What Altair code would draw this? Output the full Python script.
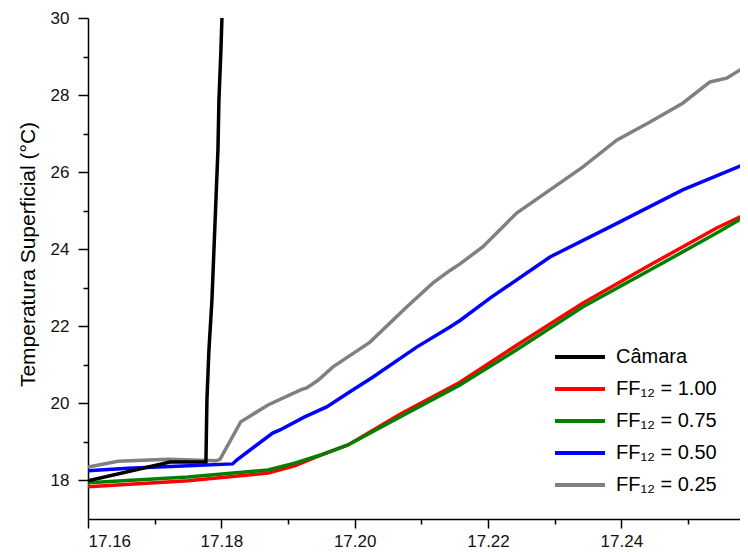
import altair as alt
import pandas as pd

# ---- series names / colours (legend order) ----
series_names = ["Câmara", "FF₁₂ = 1.00", "FF₁₂ = 0.75", "FF₁₂ = 0.50", "FF₁₂ = 0.25"]
series_colors = ["#000000", "#ff0000", "#008000", "#0000ff", "#808080"]

# ---- data (hora, temperatura °C) ----
ff025_t = [17.1600, 17.1645, 17.1720, 17.1792, 17.1798, 17.1829, 17.1870, 17.1919, 17.1928,
           17.1945, 17.1967, 17.2023, 17.2078, 17.2117, 17.2143, 17.2158, 17.2192, 17.2243,
           17.2293, 17.2342, 17.2393, 17.2443, 17.2492, 17.2533, 17.2558, 17.2590]
ff025_y = [18.35, 18.50, 18.55, 18.51, 18.55, 19.52, 19.96, 20.35, 20.40,
           20.60, 20.94, 21.59, 22.50, 23.12, 23.45, 23.62, 24.06, 24.94,
           25.54, 26.13, 26.83, 27.30, 27.79, 28.34, 28.44, 28.78]

ff050_t = [17.1600, 17.1660, 17.1750, 17.1817, 17.1823, 17.1877, 17.1888, 17.1925, 17.1958,
           17.1990, 17.2027, 17.2093, 17.2143, 17.2158, 17.2203, 17.2293, 17.2383, 17.2492, 17.2590]
ff050_y = [18.25, 18.32, 18.38, 18.43, 18.53, 19.23, 19.31, 19.65, 19.91,
           20.27, 20.68, 21.46, 21.98, 22.15, 22.73, 23.80, 24.58, 25.54, 26.24]

ff100_t = [17.1600, 17.1750, 17.1870, 17.1910, 17.1949, 17.1990, 17.2068, 17.2158, 17.2243,
           17.2342, 17.2443, 17.2543, 17.2590]
ff100_y = [17.84, 17.99, 18.19, 18.38, 18.66, 18.92, 19.72, 20.55, 21.51,
           22.60, 23.59, 24.55, 24.94]

ff075_t = [17.1600, 17.1750, 17.1870, 17.1910, 17.1949, 17.1990, 17.2068, 17.2158, 17.2243,
           17.2342, 17.2443, 17.2543, 17.2590]
ff075_y = [17.94, 18.09, 18.27, 18.45, 18.66, 18.92, 19.65, 20.48, 21.39,
           22.50, 23.46, 24.42, 24.89]

camara_t = [17.16000, 17.17230, 17.17769, 17.17784, 17.17814, 17.17859, 17.17889, 17.17919,
            17.17949, 17.17964, 17.17994, 17.18009, 17.18024]
camara_y = [17.99, 18.48, 18.48, 20.09, 21.39, 22.68, 23.98, 25.28,
            26.57, 27.87, 29.17, 30.00, 31.00]

# ---- axis ticks ----
x_major = [17.16, 17.18, 17.20, 17.22, 17.24]
x_minor = [17.17, 17.19, 17.21, 17.23, 17.25]
y_major = [18, 20, 22, 24, 26, 28, 30]
y_minor = [19, 21, 23, 25, 27, 29]
x_domain = [17.16, 17.2578]
y_domain = [17, 30]

# drawing order: grey, blue, red, green, black (black on top)
frames = []
for name, ts, ys in [
    (series_names[4], ff025_t, ff025_y),
    (series_names[3], ff050_t, ff050_y),
    (series_names[1], ff100_t, ff100_y),
    (series_names[2], ff075_t, ff075_y),
    (series_names[0], camara_t, camara_y),
]:
    frames.append(pd.DataFrame({"hora": ts, "temp": ys, "serie": name}))
df = pd.concat(frames, ignore_index=True)

FONT = "Liberation Sans"
xscale = alt.Scale(domain=x_domain, nice=False, zero=False)
yscale = alt.Scale(domain=y_domain, nice=False, zero=False)

lines = alt.Chart(df).mark_line(clip=True, strokeWidth=3.5).encode(
    x=alt.X("hora:Q", scale=xscale,
            axis=alt.Axis(values=x_major, format=".2f", title=None, tickSize=9,
                          labelPadding=5, orient="bottom")),
    y=alt.Y("temp:Q", scale=yscale,
            axis=alt.Axis(values=y_major, format="d", title="Temperatura Superficial (°C)",
                          tickSize=10, labelPadding=9, titlePadding=12,
                          titleFontSize=21, titleFontWeight="normal", titleFont=FONT,
                          titleColor="#000000", titleY=236, orient="left")),
    color=alt.Color("serie:N",
                    scale=alt.Scale(domain=series_names, range=series_colors),
                    legend=alt.Legend(title=None, orient="none", legendX=465, legendY=329,
                                      symbolType="stroke", symbolSize=2500,
                                      symbolStrokeWidth=4, labelFontSize=20,
                                      labelFont=FONT, labelColor="#000000",
                                      clipHeight=20, rowPadding=12, labelOffset=9,
                                      padding=0, labelLimit=300)),
)

minor = alt.Chart(df).mark_line(opacity=0, clip=True).encode(
    x=alt.X("hora:Q", scale=xscale,
            axis=alt.Axis(values=x_minor, labels=False, title=None, domain=False,
                          tickSize=5, orient="bottom")),
    y=alt.Y("temp:Q", scale=yscale,
            axis=alt.Axis(values=y_minor, labels=False, title=None, domain=False,
                          tickSize=5, orient="left")),
    detail="serie:N",
)

chart = alt.layer(lines, minor).resolve_axis(x="independent", y="independent").properties(
    width=652, height=501,
    autosize=alt.AutoSizeParams(type="none"),
    padding={"left": 80, "top": 10, "right": 0, "bottom": 36},
).configure_view(stroke=None).configure_axis(
    grid=False, domainColor="#000000", domainWidth=1.5, tickColor="#000000",
    tickWidth=1.5, labelFont=FONT, labelFontSize=17, labelColor="#111111",
)

chart.save("out.html", embed_options={"renderer": "svg", "actions": False})
